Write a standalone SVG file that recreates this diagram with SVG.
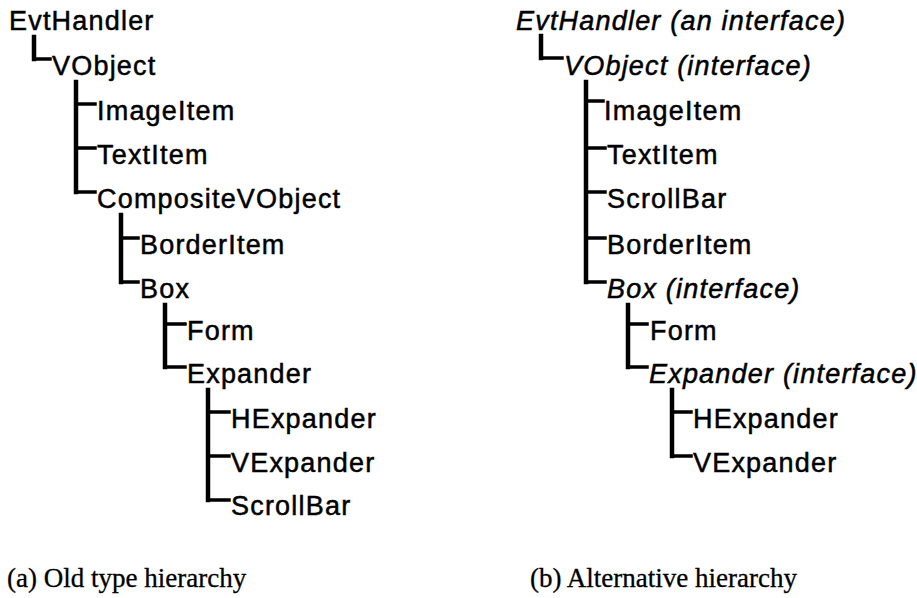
<svg xmlns="http://www.w3.org/2000/svg" width="917" height="598" viewBox="0 0 917 598">
<style>
.n{font-family:"Liberation Sans",Arial,sans-serif;font-size:27px;letter-spacing:1.2px;fill:#000;stroke:#000;stroke-width:0.5px}
.i{font-style:italic}
.cap{font-family:"Liberation Serif","Times New Roman",serif;font-size:27px;fill:#000;stroke:#000;stroke-width:0.3px}
.c{fill:none;stroke:#000;stroke-linecap:square;stroke-linejoin:miter}
.v{stroke-width:4.5}
.h{stroke-width:3.5}
</style>
<rect width="917" height="598" fill="#fff"/>
<g id="connectors" class="c">
<path class="v" d="M34 37V59"/><path class="h" d="M34 59H50"/>
<path class="v" d="M76 82V192"/><path class="h" d="M76 192H95M76 104H95M76 148H95"/>
<path class="v" d="M121 215V282"/><path class="h" d="M121 282H138M121 238H138"/>
<path class="v" d="M165 305V367"/><path class="h" d="M165 367H185M165 324H185"/>
<path class="v" d="M208 390V500"/><path class="h" d="M208 500H229M208 412H229M208 456H229"/>
<path class="v" d="M541 36V58"/><path class="h" d="M541 58H562"/>
<path class="v" d="M586 82V282"/><path class="h" d="M586 282H605M586 101H603M586 148H605M586 192H605M586 238H605"/>
<path class="v" d="M628 305V367"/><path class="h" d="M628 367H647M628 324H647"/>
<path class="v" d="M672 390V456"/><path class="h" d="M672 456H691M672 412H691"/>
</g>
<g id="a-EvtHandler"><text class="n" x="9" y="30">EvtHandler</text></g>
<g id="a-VObject"><text class="n" x="52" y="75">VObject</text></g>
<g id="a-ImageItem"><text class="n" x="97" y="120">ImageItem</text></g>
<g id="a-TextItem"><text class="n" x="97" y="164">TextItem</text></g>
<g id="a-CompositeVObject"><text class="n" x="97" y="208">CompositeVObject</text></g>
<g id="a-BorderItem"><text class="n" x="140" y="254">BorderItem</text></g>
<g id="a-Box"><text class="n" x="140" y="298">Box</text></g>
<g id="a-Form"><text class="n" x="187" y="340">Form</text></g>
<g id="a-Expander"><text class="n" x="187" y="383">Expander</text></g>
<g id="a-HExpander"><text class="n" x="231" y="428">HExpander</text></g>
<g id="a-VExpander"><text class="n" x="231" y="472">VExpander</text></g>
<g id="a-ScrollBar"><text class="n" x="231" y="515">ScrollBar</text></g>
<g id="b-EvtHandler"><text class="n i" x="516" y="30">EvtHandler (an interface)</text></g>
<g id="b-VObject"><text class="n i" x="564" y="75">VObject (interface)</text></g>
<g id="b-ImageItem"><text class="n" x="604" y="120">ImageItem</text></g>
<g id="b-TextItem"><text class="n" x="607" y="164">TextItem</text></g>
<g id="b-ScrollBar"><text class="n" x="607" y="208">ScrollBar</text></g>
<g id="b-BorderItem"><text class="n" x="607" y="254">BorderItem</text></g>
<g id="b-Box"><text class="n i" x="607" y="298">Box (interface)</text></g>
<g id="b-Form"><text class="n" x="650" y="340">Form</text></g>
<g id="b-Expander"><text class="n i" x="649" y="383">Expander (interface)</text></g>
<g id="b-HExpander"><text class="n" x="693" y="428">HExpander</text></g>
<g id="b-VExpander"><text class="n" x="693" y="472">VExpander</text></g>
<g id="captions">
<text class="cap" x="7" y="587">(a) Old type hierarchy</text>
<text class="cap" x="530" y="587">(b) Alternative hierarchy</text>
</g>
</svg>
